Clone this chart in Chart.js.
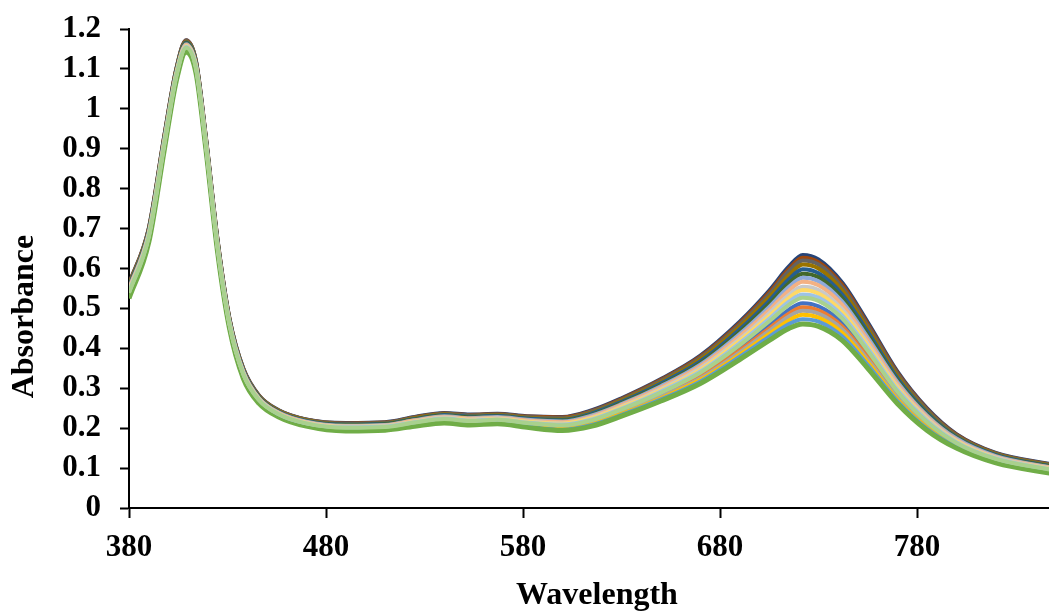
<!DOCTYPE html>
<html>
<head>
<meta charset="utf-8">
<script src="https://cdn.jsdelivr.net/npm/chart.js@4.4.1/dist/chart.umd.min.js"></script>
<style>
html,body{margin:0;padding:0;background:#fff;overflow:hidden}
canvas{display:block}
</style>
</head>
<body>
<canvas id="c" width="1049" height="615"></canvas>
<script>
const wavelengths = [380,390,398,404,409,414,419,425,431,438,446,456,470,490,510,525,540,553,567,582,600,615,630,650,670,690,705,715,722,730,742,755,770,785,800,820,850];
const xTicks = [380,480,580,680,780];
const yTicks = [0,0.1,0.2,0.3,0.4,0.5,0.6,0.7,0.8,0.9,1,1.1,1.2];
const xTitle = 'Wavelength';
const yTitle = 'Absorbance';

const series1 = [0.536,0.676,0.911,1.079,1.151,1.099,0.909,0.649,0.458,0.333,0.268,0.233,0.210,0.199,0.201,0.212,0.221,0.216,0.219,0.210,0.204,0.217,0.244,0.285,0.333,0.401,0.458,0.497,0.513,0.505,0.464,0.385,0.286,0.212,0.161,0.121,0.092];
const series2 = [0.534,0.673,0.908,1.077,1.149,1.097,0.907,0.647,0.456,0.331,0.267,0.232,0.209,0.198,0.200,0.211,0.219,0.214,0.217,0.209,0.202,0.215,0.241,0.281,0.329,0.395,0.450,0.487,0.503,0.495,0.455,0.378,0.281,0.208,0.158,0.119,0.091];
const series3 = [0.532,0.672,0.907,1.076,1.148,1.096,0.906,0.646,0.455,0.330,0.266,0.231,0.208,0.197,0.199,0.209,0.218,0.213,0.216,0.207,0.201,0.213,0.239,0.279,0.325,0.390,0.444,0.480,0.494,0.487,0.448,0.372,0.277,0.206,0.157,0.118,0.089];
const series4 = [0.530,0.670,0.905,1.074,1.146,1.094,0.904,0.644,0.453,0.328,0.265,0.230,0.207,0.196,0.198,0.208,0.216,0.211,0.214,0.206,0.198,0.210,0.236,0.275,0.321,0.384,0.436,0.470,0.484,0.477,0.439,0.365,0.272,0.202,0.155,0.116,0.088];
const series5 = [0.528,0.668,0.903,1.072,1.144,1.092,0.902,0.642,0.452,0.327,0.263,0.229,0.206,0.194,0.196,0.207,0.215,0.210,0.213,0.204,0.196,0.208,0.233,0.272,0.317,0.379,0.429,0.461,0.473,0.467,0.430,0.358,0.268,0.199,0.153,0.115,0.087];
const series6 = [0.525,0.665,0.900,1.070,1.142,1.090,0.900,0.640,0.450,0.325,0.262,0.228,0.205,0.193,0.195,0.205,0.213,0.208,0.211,0.202,0.194,0.205,0.230,0.268,0.312,0.372,0.420,0.450,0.461,0.455,0.420,0.350,0.262,0.195,0.150,0.113,0.085];
const series7 = [0.562,0.700,0.935,1.100,1.172,1.120,0.930,0.670,0.475,0.350,0.282,0.245,0.222,0.213,0.215,0.228,0.238,0.234,0.236,0.230,0.228,0.245,0.275,0.323,0.382,0.467,0.545,0.605,0.634,0.623,0.565,0.465,0.342,0.250,0.185,0.138,0.108];
const series8 = [0.561,0.699,0.934,1.099,1.171,1.119,0.929,0.669,0.474,0.349,0.281,0.244,0.221,0.212,0.214,0.227,0.237,0.233,0.235,0.229,0.227,0.243,0.273,0.321,0.379,0.463,0.540,0.599,0.627,0.616,0.559,0.460,0.339,0.248,0.184,0.137,0.107];
const series9 = [0.559,0.697,0.932,1.098,1.170,1.118,0.928,0.668,0.473,0.348,0.280,0.244,0.221,0.211,0.213,0.226,0.236,0.232,0.234,0.228,0.225,0.242,0.271,0.319,0.376,0.459,0.535,0.593,0.620,0.610,0.553,0.456,0.336,0.246,0.182,0.136,0.106];
const series10 = [0.557,0.695,0.930,1.096,1.168,1.116,0.926,0.666,0.472,0.347,0.279,0.243,0.220,0.210,0.212,0.225,0.235,0.230,0.233,0.226,0.223,0.239,0.269,0.315,0.372,0.454,0.528,0.583,0.610,0.600,0.545,0.449,0.331,0.242,0.180,0.135,0.105];
const series11 = [0.554,0.693,0.928,1.094,1.166,1.114,0.924,0.664,0.470,0.345,0.278,0.241,0.218,0.209,0.211,0.223,0.233,0.229,0.231,0.224,0.221,0.237,0.266,0.312,0.367,0.447,0.519,0.573,0.598,0.588,0.535,0.441,0.325,0.239,0.178,0.133,0.103];
const series12 = [0.552,0.691,0.926,1.092,1.164,1.112,0.922,0.662,0.468,0.343,0.277,0.240,0.217,0.208,0.210,0.222,0.231,0.227,0.229,0.222,0.219,0.234,0.263,0.308,0.363,0.441,0.511,0.563,0.587,0.578,0.526,0.434,0.320,0.235,0.176,0.131,0.102];
const series13 = [0.550,0.689,0.924,1.090,1.162,1.110,0.920,0.660,0.467,0.342,0.275,0.239,0.216,0.206,0.208,0.220,0.230,0.225,0.228,0.221,0.217,0.232,0.260,0.305,0.359,0.436,0.504,0.554,0.577,0.568,0.517,0.427,0.316,0.232,0.174,0.130,0.100];
const series14 = [0.548,0.686,0.921,1.088,1.160,1.108,0.918,0.658,0.465,0.340,0.274,0.238,0.215,0.205,0.207,0.219,0.228,0.224,0.226,0.219,0.215,0.229,0.258,0.302,0.355,0.430,0.496,0.545,0.567,0.558,0.509,0.420,0.311,0.229,0.171,0.128,0.099];
const series15 = [0.545,0.684,0.919,1.086,1.158,1.106,0.916,0.656,0.464,0.339,0.273,0.237,0.214,0.204,0.206,0.217,0.227,0.222,0.225,0.217,0.212,0.227,0.254,0.298,0.350,0.423,0.488,0.534,0.554,0.546,0.498,0.412,0.305,0.225,0.169,0.127,0.097];
const series16 = [0.543,0.682,0.917,1.085,1.157,1.105,0.915,0.655,0.462,0.337,0.272,0.236,0.213,0.203,0.205,0.216,0.225,0.221,0.223,0.216,0.211,0.225,0.252,0.295,0.346,0.419,0.481,0.526,0.546,0.537,0.491,0.406,0.301,0.222,0.167,0.125,0.096];
const series17 = [0.541,0.680,0.915,1.083,1.155,1.103,0.913,0.653,0.461,0.336,0.271,0.235,0.212,0.202,0.204,0.215,0.224,0.219,0.222,0.214,0.209,0.222,0.249,0.292,0.342,0.413,0.474,0.517,0.535,0.527,0.482,0.400,0.296,0.219,0.165,0.124,0.095];
const series18 = [0.539,0.678,0.913,1.081,1.153,1.101,0.911,0.651,0.460,0.335,0.270,0.235,0.212,0.201,0.203,0.214,0.223,0.218,0.221,0.213,0.207,0.220,0.247,0.289,0.339,0.408,0.468,0.509,0.527,0.519,0.475,0.394,0.292,0.216,0.163,0.123,0.094];

const seriesList = [series1,series2,series3,series4,series5,series6,series7,series8,series9,series10,series11,series12,series13,series14,series15,series16,series17,series18];
const seriesColors = ['#4472C4','#ED7D31','#A5A5A5','#FFC000','#5B9BD5','#70AD47','#264478','#9E480E','#636363','#997300','#255E91','#43682B','#8FAADC','#F4B183','#C9C9C9','#FFD966','#9DC3E6','#A9D18E'];

const FONT = "'Times New Roman', 'Liberation Serif', serif";

new Chart(document.getElementById('c'), {
  type: 'line',
  data: {
    datasets: seriesList.map((s, i) => ({
      label: 'Series' + (i + 1),
      data: wavelengths.map((w, j) => ({x: w, y: s[j]})),
      borderColor: seriesColors[i],
      backgroundColor: seriesColors[i],
      borderWidth: i === 5 ? 5 : 4,
      pointRadius: 0,
      fill: false,
      cubicInterpolationMode: 'monotone',
      order: seriesList.length - i
    }))
  },
  options: {
    responsive: false,
    animation: false,
    devicePixelRatio: 1,
    layout: {padding: {top: 29, right: 0, bottom: 0, left: 0}},
    plugins: {legend: {display: false}, tooltip: {enabled: false}},
    scales: {
      x: {
        type: 'linear',
        position: 'bottom',
        min: 380,
        max: 847,
        afterBuildTicks: s => { s.ticks = xTicks.map(v => ({value: v})); },
        afterFit: s => { s.height = 107; s.paddingLeft = 0; s.paddingRight = 0; },
        grid: {drawOnChartArea: false, drawTicks: true, tickLength: 10, tickWidth: 2, tickColor: '#000'},
        border: {display: true, color: '#000', width: 2},
        ticks: {color: '#000', font: {family: FONT, size: 31, weight: 'bold'}, padding: 11, maxRotation: 0, autoSkip: false, callback: v => String(v)},
        title: {display: true, text: '  ' + xTitle, color: '#000', font: {family: FONT, size: 32, weight: 'bold'}, padding: {top: 0, bottom: 0}}
      },
      y: {
        type: 'linear',
        position: 'left',
        min: 0,
        max: 1.2,
        afterBuildTicks: s => { s.ticks = yTicks.map(v => ({value: v})); },
        afterFit: s => { s.width = 129; s.paddingTop = 0; s.paddingBottom = 0; },
        grid: {drawOnChartArea: false, drawTicks: true, tickLength: 9, tickWidth: 2, tickColor: '#000'},
        border: {display: true, color: '#000', width: 2},
        ticks: {color: '#000', font: {family: FONT, size: 31, weight: 'bold'}, padding: 19, autoSkip: false, callback: v => String(+v.toFixed(1))},
        title: {display: true, text: yTitle + '            ', color: '#000', font: {family: FONT, size: 32, weight: 'bold'}, padding: {top: 6, bottom: 0}}
      }
    }
  }
});
</script>
</body>
</html>
